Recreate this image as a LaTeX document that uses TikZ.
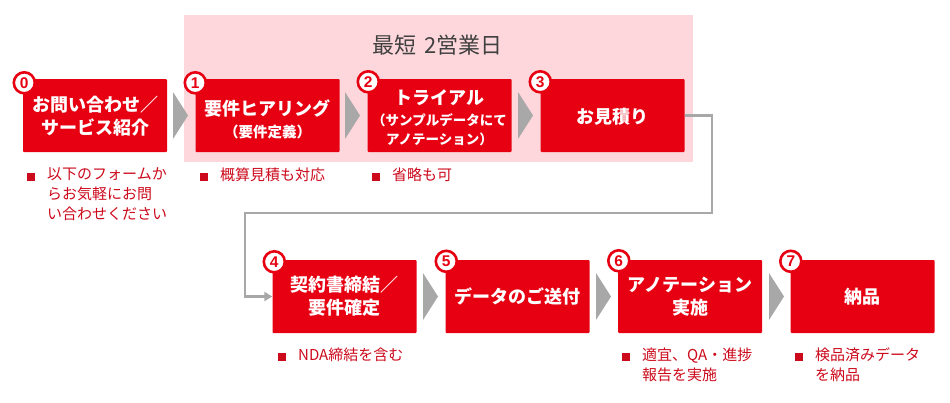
\documentclass[tikz,border=0pt]{standalone}
\usepackage{fontspec}
\setmainfont{Noto Sans CJK JP}
\newfontfamily\digitfont{Liberation Sans}
\usetikzlibrary{arrows.meta,calc}
\definecolor{boxred}{RGB}{230,0,18}
\definecolor{textred}{RGB}{204,10,28}
\definecolor{pinkbg}{RGB}{253,215,219}
\definecolor{chevgray}{RGB}{168,168,168}
\definecolor{titlegray}{RGB}{64,64,64}
\tikzset{
  stepbox/.style={rectangle, fill=boxred, rounded corners=1pt, minimum width=144pt, minimum height=73pt,
    inner sep=0pt, text=white, align=center, font=\bfseries\fontsize{18}{23}\selectfont},
  numcirc/.style={circle, draw=boxred, line width=2.6pt, fill=white, minimum size=21pt, inner sep=0pt,
    text=boxred, font=\digitfont\bfseries\fontsize{15.5}{16}\selectfont},
  bulletsq/.style={rectangle, fill=textred, minimum size=8pt, inner sep=0pt},
  note/.style={anchor=north west, inner sep=0pt, align=left, text=textred, font=\fontsize{15}{20}\selectfont},
  chev/.style={fill=chevgray},
  conn/.style={draw=chevgray, line width=2.6pt, -{Triangle[length=8pt,width=9pt]}},
  titletext/.style={text=titlegray, font=\fontsize{22}{24}\selectfont, inner sep=0pt}
}
\begin{document}
\begin{tikzpicture}[x=1pt,y=-1pt]
\useasboundingbox (0,0) rectangle (950,402);
% pink band
\fill[pinkbg] (184,15) rectangle (693,162);
\node[titletext] (title) at (437.5,45) {最短\hspace{0.4em}2営業日};
% top row boxes
\node[stepbox] (b0) at (95,115.5) {\rule{0pt}{17pt}お問い合わせ／\\サービス紹介};
\node[stepbox] (b1) at (267.5,115.5) {\rule{0pt}{24pt}要件ヒアリング\\[-1pt]{\fontsize{14.5}{18}\selectfont （要件定義）}};
\node[stepbox] (b2) at (439.5,115.5) {\rule{0pt}{20pt}トライアル\\[-2pt]{\fontsize{13.5}{17}\selectfont （サンプルデータにて}\\[-4pt]{\fontsize{13.5}{17}\selectfont アノテーション）}};
\node[stepbox] (b3) at (612.5,115.5) {\rule{0pt}{18pt}お見積り};
% bottom row boxes
\node[stepbox] (b4) at (344.5,296.5) {契約書締結／\\要件確定};
\node[stepbox] (b5) at (517.5,296.5) {データのご送付};
\node[stepbox] (b6) at (690,296.5) {アノテーション\\実施};
\node[stepbox] (b7) at (862.5,296.5) {納品};
% number circles
\node[numcirc] (n0) at ($(b0.north west)+(1.5,4)$) {0};
\node[numcirc] (n1) at ($(b1.north west)+(0,4)$) {1};
\node[numcirc] (n2) at ($(b2.north west)+(1,3)$) {2};
\node[numcirc] (n3) at ($(b3.north west)+(0,3)$) {3};
\node[numcirc] (n4) at ($(b4.north west)+(2,2)$) {4};
\node[numcirc] (n5) at ($(b5.north west)+(1,1.5)$) {5};
\node[numcirc] (n6) at ($(b6.north west)+(1,1)$) {6};
\node[numcirc] (n7) at ($(b7.north west)+(0.5,1.5)$) {7};
% chevrons
\fill[chev] (173,92) -- (188,115.5) -- (173,139) -- cycle;
\fill[chev] (345,92) -- (360,115.5) -- (345,139) -- cycle;
\fill[chev] (518,92) -- (533,115.5) -- (518,139) -- cycle;
\fill[chev] (423,273) -- (438,296.5) -- (423,320) -- cycle;
\fill[chev] (596,273) -- (611,296.5) -- (596,320) -- cycle;
\fill[chev] (769,273) -- (784,296.5) -- (769,320) -- cycle;
% connector
\coordinate (c1) at (712,213);
\coordinate (c2) at (245,213);
\draw[conn] (b3.east) -| (c1) -- (c2) |- (b4.west);
% notes
\node[bulletsq] (s0) at (30.5,176.5) {};
\node[note] (t0) at (47,167.5) {以下のフォームか\\らお気軽にお問\\い合わせください};
\node[bulletsq] (s1) at (203.5,176.5) {};
\node[note] (t1) at (220,167.5) {概算見積も対応};
\node[bulletsq] (s2) at (375.5,176.5) {};
\node[note] (t2) at (392,167.5) {省略も可};
\node[bulletsq] (s4) at (281.5,356.5) {};
\node[note] (t4) at (298,347.5) {NDA締結を含む};
\node[bulletsq] (s6) at (626,356.5) {};
\node[note] (t6) at (642,347.5) {適宜、QA・進捗\\報告を実施};
\node[bulletsq] (s7) at (798.5,356.5) {};
\node[note] (t7) at (815,347.5) {検品済みデータ\\を納品};
\end{tikzpicture}
\end{document}
